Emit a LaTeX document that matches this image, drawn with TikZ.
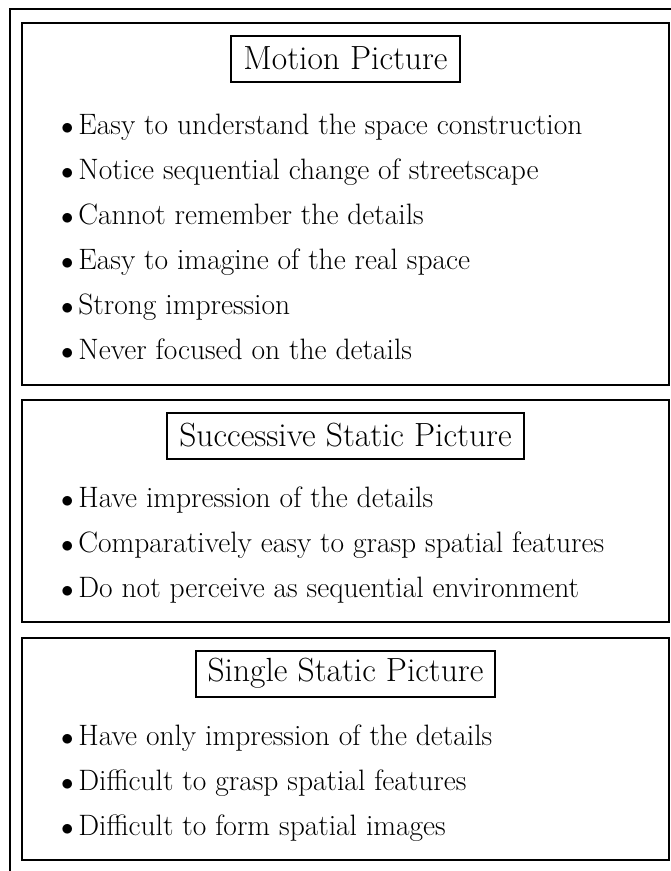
\documentclass[tikz,border=0pt]{standalone}
\usepackage{fontspec}
\begin{document}
\begin{tikzpicture}[x=1pt,y=-1pt,line width=2pt,
    panel/.style={draw,minimum width=647pt,inner sep=0pt},
    heading/.style={draw,font=\fontsize{33.5}{40}\selectfont,inner xsep=12pt,minimum height=46pt},
    item/.style={anchor=base west,inner sep=0pt,font=\fontsize{29.5}{35}\selectfont}]
        \useasboundingbox (0,0) rectangle (671,871);
        % outer frame
        \coordinate (TL) at (10,9);
        \coordinate (TR) at (671,9);
        \coordinate (BL) at (10,871);
        \draw (TR) -- (TL) -- (BL);
        % panels
        \node[panel,minimum height=362pt] (motion) at (345.5,204) {};
        \node[panel,minimum height=222pt] (succ) at (345.5,511) {};
        \node[panel,minimum height=222pt] (single) at (345.5,749) {};
        % headings
        \node[heading] (Hm) at (345.5,58.5) {Motion Picture};
        \node[heading] (Hs) at (345.5,435.5) {Successive Static Picture};
        \node[heading] (Hg) at (345.5,673.5) {Single Static Picture};
        % motion picture
        \node[item] (m1) at (60,134) {$\bullet$\,Easy to understand the space construction};
        \node[item] (m2) at (60,179) {$\bullet$\,Notice sequential change of streetscape};
        \node[item] (m3) at (60,224) {$\bullet$\,Cannot remember the details};
        \node[item] (m4) at (60,269) {$\bullet$\,Easy to imagine of the real space};
        \node[item] (m5) at (60,314) {$\bullet$\,Strong impression};
        \node[item] (m6) at (60,359) {$\bullet$\,Never focused on the details};
        % successive static picture
        \node[item] (s1) at (60,507) {$\bullet$\,Have impression of the details};
        \node[item] (s2) at (60,552) {$\bullet$\,Comparatively easy to grasp spatial features};
        \node[item] (s3) at (60,597) {$\bullet$\,Do not perceive as sequential environment};
        % single static picture
        \node[item] (g1) at (60,745) {$\bullet$\,Have only impression of the details};
        \node[item] (g2) at (60,790) {$\bullet$\,Difficult to grasp spatial features};
        \node[item] (g3) at (60,835) {$\bullet$\,Difficult to form spatial images};
    \end{tikzpicture}
\end{document}
